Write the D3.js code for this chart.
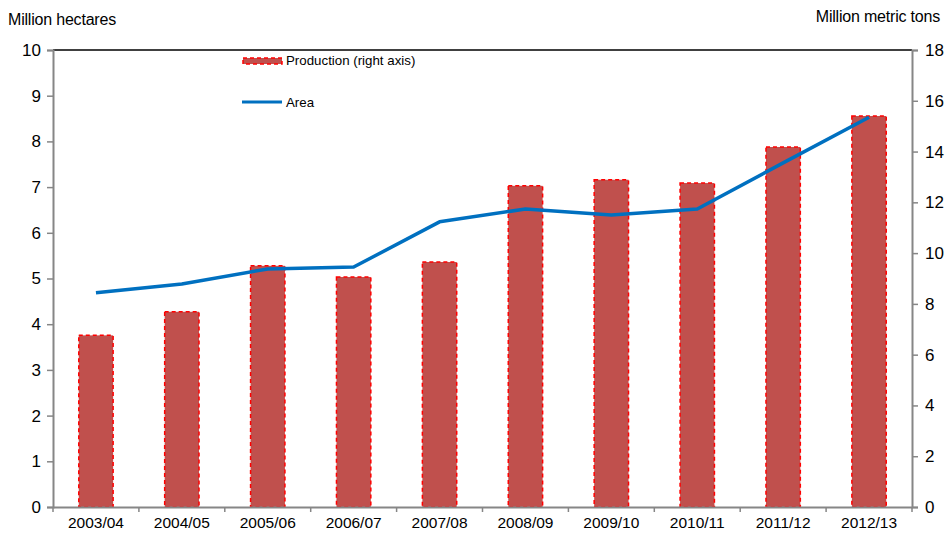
<!DOCTYPE html>
<html lang="en">
<head>
    <meta charset="UTF-8">
    <title>Area and production</title>
    <script src="https://cdn.jsdelivr.net/npm/d3@7"></script>
    <style>
        body { margin: 0; background: #fff; }
        text { font-family: "Liberation Sans", Arial, sans-serif; fill: #000; }
    </style>
</head>
<body>
    <svg id="mainsvg" width="945" height="533"></svg>
    <script>
        const years = ["2003/04","2004/05","2005/06","2006/07","2007/08","2008/09","2009/10","2010/11","2011/12","2012/13"];
        const area = [4.69, 4.88, 5.21, 5.25, 6.24, 6.52, 6.39, 6.52, 7.53, 8.53];          // million hectares
        const production = [6.76, 7.69, 9.50, 9.06, 9.65, 12.65, 12.89, 12.76, 14.18, 15.40]; // million metric tons
        const leftTicks = [0,1,2,3,4,5,6,7,8,9,10];
        const rightTicks = [0,2,4,6,8,10,12,14,16,18];

        const svg = d3.select("#mainsvg");
        const margin = {top:50, right:33, bottom:26, left:53};
        const innerWidth = 945 - margin.left - margin.right;
        const innerHeight = 533 - margin.top - margin.bottom;
        const axisGrey = "#868686";

        const g = svg.append("g").attr("transform", `translate(${margin.left},${margin.top})`);

        const xBand = d3.scaleBand().domain(years).range([0, innerWidth]);
        const barW = xBand.bandwidth() / 2.5;   // gap width 150%
        const yLeft = d3.scaleLinear().domain([0, 10]).range([innerHeight, 0]);
        const yRight = d3.scaleLinear().domain([0, 18]).range([innerHeight, 0]);

        // top frame line
        g.append("line").attr("x1", 0).attr("x2", innerWidth).attr("y1", 0).attr("y2", 0)
            .attr("stroke", "#000").attr("stroke-width", 1.5);

        // bars (production, right axis)
        g.selectAll(".bar").data(production).join("rect")
            .attr("class", "bar")
            .attr("x", (d, i) => xBand(years[i]) + xBand.bandwidth() / 2 - barW / 2)
            .attr("width", barW)
            .attr("y", d => yRight(d))
            .attr("height", d => innerHeight - yRight(d))
            .attr("fill", "#C0504D")
            .attr("stroke", "#FF0000")
            .attr("stroke-width", 1.5)
            .attr("stroke-dasharray", "4,3");

        // area line
        const line = d3.line()
            .x((d, i) => xBand(years[i]) + xBand.bandwidth() / 2)
            .y(d => yLeft(d));
        g.append("path").datum(area)
            .attr("d", line)
            .attr("fill", "none")
            .attr("stroke", "#0070C0")
            .attr("stroke-width", 3.5)
            .attr("stroke-linejoin", "round");

        // left axis
        const leftAxis = g.append("g").call(d3.axisLeft(yLeft).tickValues(leftTicks).tickSize(6).tickPadding(6));
        leftAxis.select(".domain").attr("stroke", axisGrey).attr("stroke-width", 2);
        leftAxis.selectAll(".tick line").attr("stroke", axisGrey).attr("stroke-width", 1.5);
        leftAxis.selectAll(".tick text").attr("font-size", "17px").attr("fill", "#000");

        // right axis
        const rightAxis = g.append("g").attr("transform", `translate(${innerWidth},0)`)
            .call(d3.axisRight(yRight).tickValues(rightTicks).tickSize(6).tickPadding(7));
        rightAxis.select(".domain").attr("stroke", axisGrey).attr("stroke-width", 2);
        rightAxis.selectAll(".tick line").attr("stroke", axisGrey).attr("stroke-width", 1.5);
        rightAxis.selectAll(".tick text").attr("font-size", "17px").attr("fill", "#000");

        // bottom axis: labels centered, ticks at category boundaries
        const bottom = g.append("g").attr("transform", `translate(0,${innerHeight})`)
            .call(d3.axisBottom(xBand).tickSize(0).tickPadding(10));
        bottom.select(".domain").attr("stroke", axisGrey).attr("stroke-width", 2);
        bottom.selectAll(".tick text").attr("font-size", "15.5px").attr("fill", "#000");
        bottom.selectAll(".bound").data(d3.range(years.length + 1)).join("line")
            .attr("class", "bound")
            .attr("x1", i => i * xBand.step()).attr("x2", i => i * xBand.step())
            .attr("y1", 0).attr("y2", 5)
            .attr("stroke", axisGrey).attr("stroke-width", 1.5);

        // axis titles
        svg.append("text").text("Million hectares")
            .attr("x", 8).attr("y", 25).attr("font-size", "16px").attr("letter-spacing", "-0.2px");
        svg.append("text").text("Million metric tons")
            .attr("x", 940).attr("y", 22).attr("text-anchor", "end").attr("font-size", "16px").attr("letter-spacing", "-0.2px");

        // legend
        const legend = svg.append("g");
        legend.append("rect").attr("x", 243).attr("y", 58).attr("width", 39).attr("height", 6)
            .attr("fill", "#C0504D").attr("stroke", "#FF0000").attr("stroke-width", 1.5).attr("stroke-dasharray", "4,3");
        legend.append("text").text("Production (right axis)")
            .attr("x", 286).attr("y", 65).attr("font-size", "13.3px");
        legend.append("line").attr("x1", 242).attr("x2", 282).attr("y1", 102).attr("y2", 102)
            .attr("stroke", "#0070C0").attr("stroke-width", 3);
        legend.append("text").text("Area")
            .attr("x", 286).attr("y", 107).attr("font-size", "13.3px");
    </script>
</body>
</html>
